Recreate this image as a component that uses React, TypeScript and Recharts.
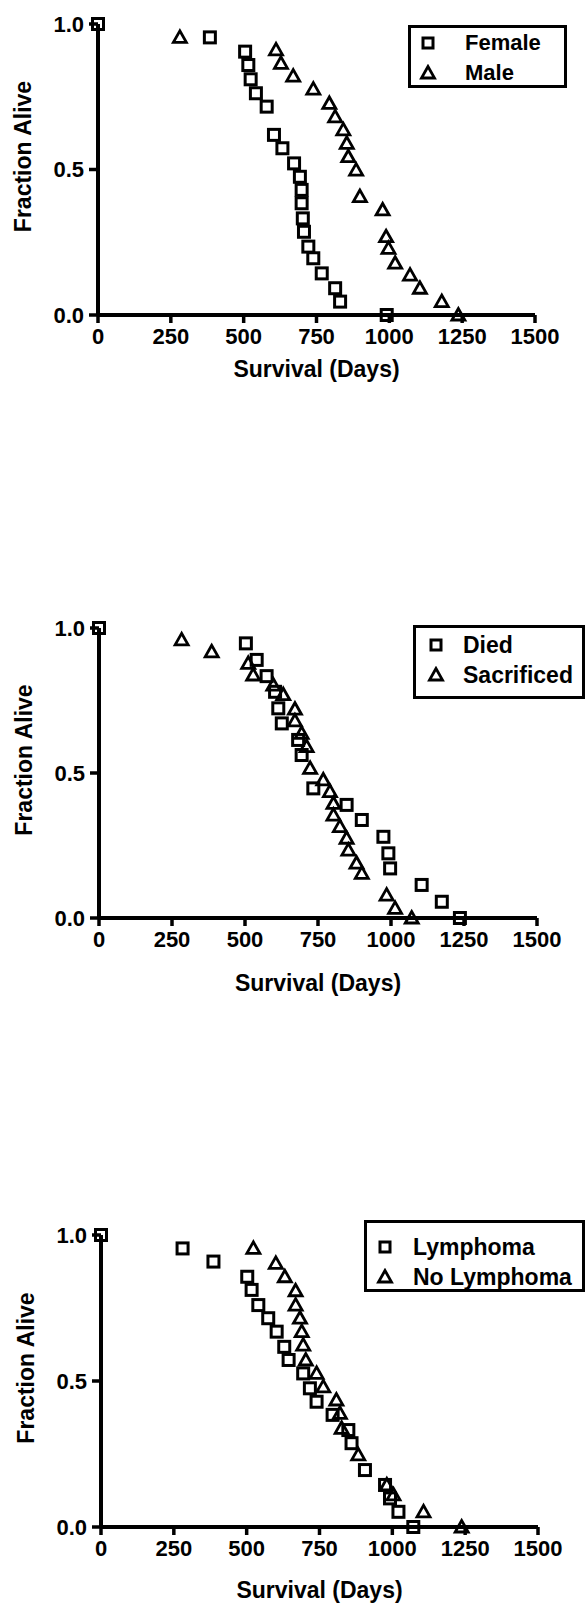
import React from "react";
import { ScatterChart, Scatter, XAxis, YAxis, Legend, Label } from "recharts";

const FONT = "'Liberation Sans', Arial, Helvetica, sans-serif";
const INK = "#000";

const X_TICKS = [0, 250, 500, 750, 1000, 1250, 1500];
const Y_TICKS = [0, 0.5, 1];

// Panel 1: sex
const femaleDays = [0, 384, 505, 516, 524, 542, 579, 604, 633, 673, 693, 699, 699, 703, 707, 722, 739, 768, 814, 831, 991];
const femaleFrac = [1.0, 0.954, 0.905, 0.859, 0.81, 0.762, 0.716, 0.619, 0.573, 0.521, 0.475, 0.43, 0.384, 0.332, 0.286, 0.235, 0.195, 0.143, 0.092, 0.046, 0.0];
const maleDays = [281, 611, 628, 670, 739, 794, 814, 842, 854, 859, 886, 899, 977, 989, 997, 1020, 1071, 1105, 1180, 1237];
const maleFrac = [0.954, 0.911, 0.865, 0.821, 0.776, 0.727, 0.681, 0.636, 0.59, 0.544, 0.498, 0.407, 0.361, 0.269, 0.229, 0.178, 0.137, 0.092, 0.046, 0.0];

// Panel 2: cause of death
const diedDays = [0, 503, 540, 574, 603, 614, 626, 682, 694, 734, 848, 900, 974, 991, 997, 1105, 1174, 1236];
const diedFrac = [1.0, 0.947, 0.89, 0.834, 0.78, 0.723, 0.671, 0.614, 0.562, 0.447, 0.39, 0.338, 0.28, 0.223, 0.171, 0.114, 0.056, 0.0];
const sacDays = [283, 386, 511, 528, 597, 631, 671, 671, 694, 711, 723, 768, 791, 803, 803, 825, 848, 854, 882, 900, 985, 1014, 1071];
const sacFrac = [0.959, 0.918, 0.878, 0.838, 0.803, 0.77, 0.72, 0.68, 0.637, 0.591, 0.516, 0.476, 0.436, 0.395, 0.355, 0.315, 0.275, 0.234, 0.189, 0.154, 0.079, 0.033, 0.0];

// Panel 3: lymphoma
const lymDays = [0, 280, 386, 502, 517, 540, 574, 603, 629, 644, 694, 717, 740, 795, 849, 860, 906, 975, 992, 1021, 1072];
const lymFrac = [1.0, 0.954, 0.909, 0.857, 0.812, 0.76, 0.715, 0.669, 0.617, 0.572, 0.526, 0.475, 0.429, 0.384, 0.332, 0.287, 0.195, 0.144, 0.098, 0.052, 0.0];
const noLymDays = [523, 600, 631, 668, 668, 683, 689, 694, 703, 740, 763, 808, 820, 826, 883, 981, 1004, 1107, 1238];
const noLymFrac = [0.954, 0.903, 0.857, 0.809, 0.76, 0.715, 0.669, 0.623, 0.572, 0.526, 0.48, 0.435, 0.389, 0.338, 0.247, 0.144, 0.11, 0.052, 0.0];

const toPoints = (days: number[], frac: number[]) => days.map((d, i) => ({ x: d, y: frac[i] }));

const SquareMark = (props: any) => {
  const { cx, cy } = props;
  if (cx == null || cy == null) return null;
  return <rect x={cx - 5.5} y={cy - 5.5} width={11} height={11} fill="none" stroke={INK} strokeWidth={3} />;
};

const TriangleMark = (props: any) => {
  const { cx, cy } = props;
  if (cx == null || cy == null) return null;
  const pts = `${cx},${cy - 6.5} ${cx - 6.5},${cy + 5} ${cx + 6.5},${cy + 5}`;
  return <polygon points={pts} fill="none" stroke={INK} strokeWidth={2.8} />;
};

const LegendIcon = ({ kind }: { kind: string }) => (
  <svg width={18} height={18} style={{ display: "block" }}>
    {kind === "square" ? (
      <rect x={4} y={4} width={10} height={10} fill="none" stroke={INK} strokeWidth={3} />
    ) : (
      <polygon points="9,2.5 2.5,14 15.5,14" fill="none" stroke={INK} strokeWidth={2.8} />
    )}
  </svg>
);

interface LegendBox {
  padTop: number;
  markerX: number;
  textX: number;
  rowH: number;
  fontSize: number;
}

const makeLegend = (box: LegendBox, kinds: string[]) => (props: any) => {
  const payload = props.payload || [];
  return (
    <div style={{ paddingTop: box.padTop, fontFamily: FONT, fontWeight: "bold", fontSize: box.fontSize, color: INK }}>
      {payload.map((entry: any, i: number) => (
        <div key={i} style={{ position: "relative", height: box.rowH }}>
          <div style={{ position: "absolute", left: box.markerX - 9, top: box.rowH / 2 - 9 }}>
            <LegendIcon kind={kinds[i]} />
          </div>
          <div style={{ position: "absolute", left: box.textX, top: 0, lineHeight: `${box.rowH}px`, whiteSpace: "nowrap" }}>
            {entry.value}
          </div>
        </div>
      ))}
    </div>
  );
};

const XTitle = (dy: number) => (props: any) => {
  const vb = props.viewBox || {};
  return (
    <text x={vb.x + vb.width / 2} y={vb.y + dy} textAnchor="middle" dominantBaseline="central"
      fontFamily={FONT} fontWeight="bold" fontSize={23} fill={INK}>
      Survival (Days)
    </text>
  );
};

const YTitle = (props: any) => {
  const vb = props.viewBox || {};
  const x = vb.x + vb.width - 75.5;
  const y = vb.y + vb.height / 2 - 13;
  return (
    <text x={x} y={y} transform={`rotate(-90, ${x}, ${y})`} textAnchor="middle" dominantBaseline="central"
      fontFamily={FONT} fontWeight="bold" fontSize={23} fill={INK}>
      Fraction Alive
    </text>
  );
};

const tickStyle = { fill: INK, fontSize: 22, fontWeight: "bold", fontFamily: FONT };
const axisStroke = { stroke: INK, strokeWidth: 4 };
const tickStroke = { stroke: INK, strokeWidth: 3.5 };

interface PanelProps {
  top: number;
  height: number;
  margin: { top: number; right: number; bottom: number; left: number };
  titleDy: number;
  names: [string, string];
  a: { x: number; y: number }[];
  b: { x: number; y: number }[];
  legendStyle: React.CSSProperties;
  legendBox: LegendBox;
}

const SurvivalPanel = ({ top, height, margin, titleDy, names, a, b, legendStyle, legendBox }: PanelProps) => (
  <div style={{ position: "absolute", left: 0, top, width: 585, height }}>
    <ScatterChart width={585} height={height} margin={margin}>
      <XAxis
        type="number"
        dataKey="x"
        domain={[0, 1500]}
        ticks={X_TICKS}
        height={70}
        tick={tickStyle}
        tickSize={8}
        tickMargin={5}
        stroke={INK}
        axisLine={axisStroke}
        tickLine={tickStroke}
      >
        <Label content={XTitle(titleDy)} />
      </XAxis>
      <YAxis
        type="number"
        dataKey="y"
        domain={[0, 1]}
        ticks={Y_TICKS}
        width={70}
        tick={tickStyle}
        tickSize={9}
        tickMargin={5}
        stroke={INK}
        axisLine={axisStroke}
        tickLine={tickStroke}
        tickFormatter={(v: number) => v.toFixed(1)}
      >
        <Label content={YTitle} />
      </YAxis>
      <Legend
        layout="vertical"
        align="center"
        verticalAlign="middle"
        wrapperStyle={{ ...legendStyle, border: "3px solid #000", boxSizing: "border-box", background: "#fff" }}
        content={makeLegend(legendBox, ["square", "triangle"])}
      />
      <Scatter name={names[0]} data={a} shape={SquareMark} legendType="square" isAnimationActive={false} />
      <Scatter name={names[1]} data={b} shape={TriangleMark} legendType="triangle" isAnimationActive={false} />
    </ScatterChart>
  </div>
);

export default function App() {
  return (
    <div style={{ position: "absolute", left: 0, top: 0, width: 585, height: 1605, background: "#fff", overflow: "hidden" }}>
      <SurvivalPanel
        top={0}
        height={400}
        margin={{ top: 24, right: 50, bottom: 15, left: 28 }}
        titleDy={54}
        names={["Female", "Male"]}
        a={toPoints(femaleDays, femaleFrac)}
        b={toPoints(maleDays, maleFrac)}
        legendStyle={{ left: 408, top: 25, width: 159, height: 63 }}
        legendBox={{ padTop: 0, markerX: 17, textX: 54, rowH: 30, fontSize: 22 }}
      />
      <SurvivalPanel
        top={600}
        height={400}
        margin={{ top: 28, right: 48, bottom: 12, left: 29 }}
        titleDy={65}
        names={["Died", "Sacrificed"]}
        a={toPoints(diedDays, diedFrac)}
        b={toPoints(sacDays, sacFrac)}
        legendStyle={{ left: 413, top: 25, width: 172, height: 74 }}
        legendBox={{ padTop: 2, markerX: 20, textX: 47, rowH: 30, fontSize: 23 }}
      />
      <SurvivalPanel
        top={1200}
        height={405}
        margin={{ top: 35, right: 47, bottom: 8, left: 31 }}
        titleDy={63}
        names={["Lymphoma", "No Lymphoma"]}
        a={toPoints(lymDays, lymFrac)}
        b={toPoints(noLymDays, noLymFrac)}
        legendStyle={{ left: 364, top: 20, width: 221, height: 72 }}
        legendBox={{ padTop: 9, markerX: 18, textX: 46, rowH: 30, fontSize: 23 }}
      />
    </div>
  );
}
